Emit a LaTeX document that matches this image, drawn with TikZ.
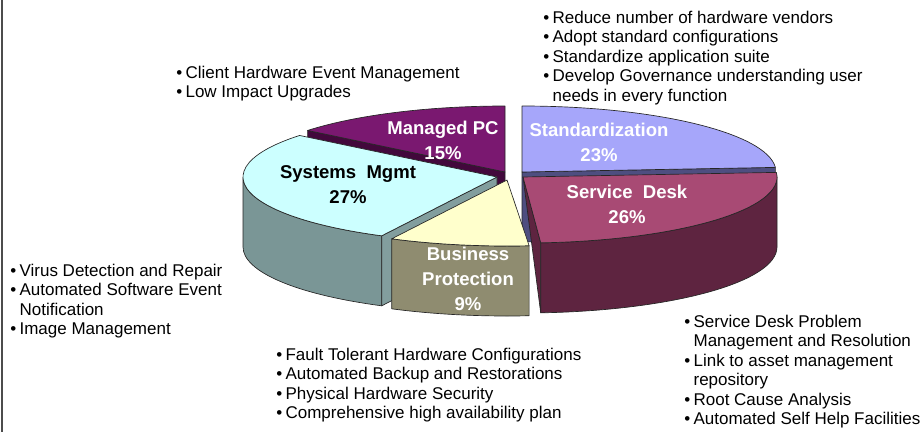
\documentclass[tikz,border=0pt]{standalone}
\usepackage{fontspec}
\setmainfont{Liberation Sans}
\usepackage{tikz}
\usetikzlibrary{calc,positioning}
\definecolor{mpctop}{RGB}{122,24,112}
\definecolor{mpcside}{RGB}{66,8,60}
\definecolor{stdtop}{RGB}{166,166,250}
\definecolor{stdside}{RGB}{78,78,128}
\definecolor{systop}{RGB}{204,255,255}
\definecolor{sysside}{RGB}{122,150,150}
\definecolor{syscut}{RGB}{130,158,158}
\definecolor{bptop}{RGB}{255,255,204}
\definecolor{bpside}{RGB}{143,140,112}
\definecolor{sdtop}{RGB}{168,74,116}
\definecolor{sdside}{RGB}{94,36,64}
\newcommand{\itm}{\makebox[7pt][l]{•}}
\newcommand{\hangin}{\hspace*{7pt}}

\begin{document}
\begin{tikzpicture}[x=0.75pt, y=-0.75pt,
	slice/.style={draw=black!85, line width=0.5pt, line join=round},
	notes/.style={anchor=north west, align=left, inner sep=0pt, font=\fontsize{12.75}{14.55}\selectfont},
	pct/.style={align=center, inner sep=0pt, font=\bfseries\fontsize{13.9}{18.75}\selectfont}]
	\useasboundingbox (0,0) rectangle (924,432);
	\draw [line width=1.1pt, black!70] (2,0) -- (2,432);
	\coordinate (mpc_c) at (505,172);
	\coordinate (std_c) at (522,172);
	\coordinate (sys_c) at (497,177);
	\coordinate (bp_c) at (507,180);
	\coordinate (sd_c) at (523,177);
	\filldraw [slice, fill=mpcside] (mpc_c) -- ++(-141:254 and 66) -- ++(0,70) -- ($(mpc_c)+(0,70)$) -- cycle;
	\filldraw [slice, fill=mpctop] (mpc_c) -- ++(-90:254 and 66) arc [start angle=-90, end angle=-141, x radius=254, y radius=66] -- cycle;
	\filldraw [slice, fill=stdside] (std_c) -- ++(-4:254 and 66) -- ++(0,70) -- ($(std_c)+(0,70)$) -- cycle;
	\filldraw [slice, fill=stdtop] (std_c) -- ++(-4:254 and 66) arc [start angle=-4, end angle=-90, x radius=254, y radius=66] -- cycle;
	\filldraw [slice, fill=sysside] ($(sys_c)+(-180:254 and 66)$) arc [start angle=-180, end angle=-243, x radius=254, y radius=66] -- ++(0,70) arc [start angle=-243, end angle=-180, x radius=254, y radius=66] -- cycle;
	\filldraw [slice, fill=syscut] (sys_c) -- ++(-243:254 and 66) -- ++(0,70) -- ($(sys_c)+(0,70)$) -- cycle;
	\filldraw [slice, fill=systop] (sys_c) -- ++(-141:254 and 66) arc [start angle=-141, end angle=-243, x radius=254, y radius=66] -- cycle;
	\filldraw [slice, fill=bpside] ($(bp_c)+(-243:254 and 66)$) arc [start angle=-243, end angle=-275, x radius=254, y radius=66] -- ++(0,70) arc [start angle=-275, end angle=-243, x radius=254, y radius=66] -- cycle;
	\filldraw [slice, fill=bptop] (bp_c) -- ++(-243:254 and 66) arc [start angle=-243, end angle=-275, x radius=254, y radius=66] -- cycle;
	\filldraw [slice, fill=sdside] (sd_c) -- ++(-274:254 and 66) -- ++(0,70) -- cycle;
	\filldraw [slice, fill=sdside] ($(sd_c)+(-274:254 and 66)$) arc [start angle=-274, end angle=-360, x radius=254, y radius=66] -- ++(0,70) arc [start angle=-360, end angle=-274, x radius=254, y radius=66] -- cycle;
	\filldraw [slice, fill=sdtop] (sd_c) -- ++(-274:254 and 66) arc [start angle=-274, end angle=-364, x radius=254, y radius=66] -- cycle;
	\node [](mpc_label) at (443,140) [pct, text=white]{Managed PC\\15\%};
	\node [](std_label) at (599,142) [pct, text=white]{Standardization\\23\%};
	\node [](sys_label) at (348,185) [pct]{Systems~~Mgmt\\27\%};
	\node [](sd_label) at (627,204) [pct, text=white]{Service~~Desk\\26\%};
	\node [](bp_label) at (468,279) [pct, text=white]{Business\\Protection\\9\%};
	\node [](std_notes) at (543,11) [notes]{\itm Reduce number of hardware vendors\\ \itm Adopt standard configurations\\ \itm Standardize application suite\\ \itm Develop Governance understanding user\\ \hangin needs in every function};
	\node [](mpc_notes) at (176,66) [notes]{\itm Client Hardware Event Management\\ \itm Low Impact Upgrades};
	\node [](sys_notes) at (10,264) [notes]{\itm Virus Detection and Repair\\ \itm Automated Software Event\\ \hangin Notification\\ \itm Image Management};
	\node [](bp_notes) at (276,348) [notes]{\itm Fault Tolerant Hardware Configurations\\ \itm Automated Backup and Restorations\\ \itm Physical Hardware Security\\ \itm Comprehensive high availability plan};
	\node [](sd_notes) at (684,315) [notes]{\itm Service Desk Problem\\ \hangin Management and Resolution\\ \itm Link to asset management\\ \hangin repository\\ \itm Root Cause Analysis\\ \itm Automated Self Help Facilities};
\end{tikzpicture}
\end{document}
